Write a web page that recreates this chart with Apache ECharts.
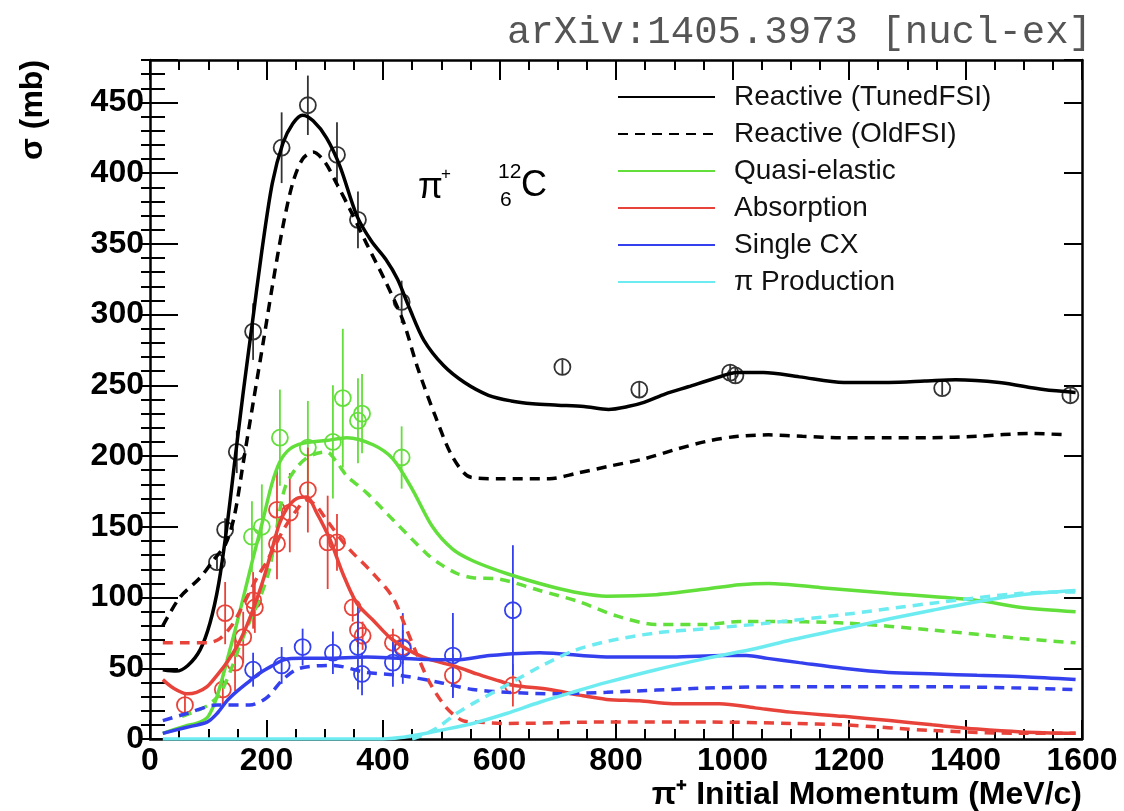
<!DOCTYPE html>
<html>
<head>
<meta charset="utf-8">
<script src="https://cdn.jsdelivr.net/npm/echarts@6/dist/echarts.min.js"></script>
<style>
html, body { margin: 0; padding: 0; background: #fff; }
#chart { width: 1124px; height: 811px; }
</style>
</head>
<body>
<div id="chart"></div>
<script>
// pi+ on carbon-12: cross sections (mb) vs pion momentum (MeV/c)

const xTicks = [0, 200, 400, 600, 800, 1000, 1200, 1400, 1600];
const yTicks = [0, 50, 100, 150, 200, 250, 300, 350, 400, 450];

// Model curves [momentum, sigma]
const reactiveTuned = [[22,49],[45,48],[65,52],[86,63],[103,82],[118,110],[132,150],[146,198],[160,245],[175,292],[192,345],[210,393],[228,421],[245,435],[262,441],[280,437],[303,425],[326,405],[355,370],[380,352],[405,339],[425,325],[445,305],[470,282],[504,264],[540,252],[581,243],[620,239],[657,237],[700,236],[745,235],[787,233],[820,235],[848,238],[885,244],[924,249],[970,255],[1008,259],[1053,259],[1115,256],[1191,252],[1268,252],[1330,253],[1383,254],[1458,252],[1534,247],[1589,245]];
const reactiveOld = [[22,80],[51,100],[86,114],[108,126],[130,138],[145,158],[160,195],[178,240],[195,282],[210,320],[228,362],[245,393],[262,410],[280,415],[300,408],[320,393],[345,373],[372,350],[406,322],[435,295],[459,263],[490,228],[520,199],[551,185],[600,184],[686,184],[734,188],[790,193],[848,198],[905,205],[962,211],[1010,214],[1062,215],[1120,214],[1191,213],[1268,213],[1340,213],[1420,214],[1511,216],[1573,215]];
const quasiTuned = [[22,4],[60,9],[86,12],[100,16],[115,30],[132,55],[148,80],[162,103],[177,128],[194,155],[209,180],[223,196],[240,205],[262,209],[303,211],[338,213],[383,208],[417,198],[451,176],[485,150],[520,134],[554,126],[612,117],[686,108],[740,103],[784,101],[869,102],[955,106],[1012,109],[1062,110],[1152,107],[1268,103],[1420,98],[1496,93],[1589,90]];
const quasiOld = [[55,16],[80,20],[100,24],[120,32],[140,50],[154,66],[170,82],[189,100],[205,120],[218,150],[232,178],[252,192],[274,200],[303,203],[320,196],[338,186],[372,174],[417,155],[475,131],[497,124],[527,117],[554,114],[600,113],[669,105],[737,97],[801,87],[869,81],[955,81],[1012,83],[1062,83],[1191,82],[1343,77],[1496,71],[1589,68]];
const absTuned = [[22,42],[40,36],[63,32],[80,33],[98,37],[115,45],[132,54],[150,66],[166,80],[180,95],[194,112],[208,132],[222,152],[235,163],[252,170],[269,171],[286,160],[309,141],[331,117],[355,96],[383,84],[417,70],[468,58],[527,51],[561,46],[600,41],[623,38],[686,35],[737,31],[784,28],[840,27],[897,25],[978,25],[1039,22],[1100,19],[1191,16],[1270,13],[1343,10],[1420,7],[1496,5],[1589,4]];
const absOld = [[22,68],[60,68],[98,68],[120,71],[140,80],[154,90],[170,103],[185,115],[200,125],[215,137],[232,150],[252,162],[269,169],[285,165],[303,155],[338,136],[383,117],[417,100],[438,80],[458,60],[480,40],[509,22],[537,13],[560,12],[612,11],[784,12],[955,12],[1100,11],[1191,10],[1343,6],[1496,4],[1589,4]];
const cxTuned = [[22,4],[60,8],[98,12],[115,18],[132,27],[150,34],[171,41],[190,47],[211,52],[230,56],[260,57],[300,57],[372,58],[429,57],[497,56],[526,56],[583,59],[669,61],[784,58],[897,58],[983,59],[1024,59],[1060,57],[1115,54],[1190,50],[1268,47],[1350,46],[1420,45],[1500,44],[1589,42]];
const cxOld = [[22,13],[63,18],[115,24],[171,24],[200,29],[228,42],[257,50],[314,52],[372,47],[429,45],[497,40],[554,35],[612,33],[698,32],[784,33],[955,36],[1115,37],[1343,37],[1589,35]];
const prodTuned = [[22,0],[400,0],[430,1],[460,3],[497,6],[554,11],[612,18],[669,26],[725,33],[784,40],[869,49],[955,57],[1040,64],[1100,70],[1191,78],[1270,85],[1343,91],[1420,97],[1496,102],[1589,105]];
const prodOld = [[450,0],[475,4],[497,9],[526,18],[554,25],[612,38],[669,51],[725,62],[784,69],[869,75],[955,78],[1062,82],[1191,88],[1343,96],[1496,103],[1589,104]];

// Measurements [momentum, sigma, error]
const reactiveData = [[115,125,5],[129,148,8],[149,203,15],[177,288,20],[226,418,25],[271,448,21],[321,413,23],[357,367,20],[432,309,15],[708,263,5],[840,247,6],[996,259,6],[1005,257,6],[1360,248,5],[1580,243,5]];
const quasiData = [[175,143,25],[192,150,30],[223,213,34],[271,206,33],[314,210,40],[331,241,49],[357,225,30],[364,230,28],[432,199,22]];
const absData = [[60,24,8],[125,35,12],[129,89,22],[146,54,20],[160,72,18],[177,98,20],[180,93,18],[218,138,25],[218,162,28],[240,160,28],[271,176,30],[305,139,33],[321,139,20],[348,93,10],[357,77,12],[365,73,10],[417,68,10],[434,65,12],[520,45,15],[623,38,15]];
const cxData = [[177,49,12],[226,52,13],[262,65,13],[314,61,15],[357,65,30],[364,46,15],[417,54,17],[434,64,25],[520,59,30],[623,91,46]];

const BLACK = '#000000', GREEN = '#62df3a', RED = '#e8433a', BLUE = '#3440ee', CYAN = '#6cecf0';
const FONT = '"Liberation Sans", Arial, Helvetica, sans-serif';
const DASH = [10, 7];

function curve(name, data, color, dashed) {
  return {
    name: name, type: 'line', data: data, symbol: 'none', smooth: 0.3,
    lineStyle: { color: color, width: 3.5, type: dashed ? DASH : 'solid' },
    itemStyle: { color: color }, z: 3, silent: true
  };
}

function points(name, data, color) {
  return {
    name: name, type: 'custom', data: data, z: 2, silent: true,
    encode: { x: 0, y: 1 },
    renderItem: function (params, api) {
      const x = api.value(0), y = api.value(1), e = api.value(2);
      const p = api.coord([x, y]);
      const hi = api.coord([x, y + e]);
      const lo = api.coord([x, y - e]);
      return {
        type: 'group',
        children: [
          { type: 'line', shape: { x1: p[0], y1: hi[1], x2: p[0], y2: lo[1] }, style: { stroke: color, lineWidth: 1.8 } },
          { type: 'circle', shape: { cx: p[0], cy: p[1], r: 8 }, style: { fill: null, stroke: color, lineWidth: 1.8 } }
        ]
      };
    }
  };
}

const chart = echarts.init(document.getElementById('chart'), null, { renderer: 'canvas' });

const frameLine = { show: true, onZero: false, lineStyle: { color: '#000', width: 2.5 } };
const tickStyle = { color: '#000', width: 2 };

const option = {
  backgroundColor: '#ffffff',
  animation: false,
  grid: { left: 150, right: 42, top: 60, bottom: 72, containLabel: false },
  xAxis: [
    {
      type: 'value', min: xTicks[0], max: xTicks[xTicks.length - 1], interval: 200, position: 'bottom',
      axisLine: frameLine,
      axisTick: { show: true, inside: true, length: 19, lineStyle: tickStyle },
      minorTick: { show: true, splitNumber: 4, length: 10, lineStyle: tickStyle },
      splitLine: { show: false },
      axisLabel: { color: '#000', fontSize: 32, fontWeight: 'bold', fontFamily: FONT, margin: 6,
        formatter: v => xTicks.includes(v) ? String(v) : '' }
    },
    {
      type: 'value', min: xTicks[0], max: xTicks[xTicks.length - 1], interval: 200, position: 'top',
      axisLine: frameLine,
      axisTick: { show: true, inside: true, length: 20, lineStyle: tickStyle },
      minorTick: { show: true, splitNumber: 4, length: 10, lineStyle: tickStyle },
      splitLine: { show: false }, axisLabel: { show: false }
    }
  ],
  yAxis: [
    {
      type: 'value', min: 0, max: 480, interval: 50, position: 'left',
      axisLine: frameLine,
      axisTick: { show: true, inside: true, length: 28, lineStyle: tickStyle },
      splitLine: { show: false },
      axisLabel: { color: '#000', fontSize: 32, fontWeight: 'bold', fontFamily: FONT, margin: 6,
        formatter: v => yTicks.includes(v) ? String(v) : '' }
    },
    {
      type: 'value', min: 0, max: 480, interval: 10, position: 'left',
      axisLine: { show: false },
      axisTick: { show: true, inside: true, length: 15, lineStyle: tickStyle },
      splitLine: { show: false }, axisLabel: { show: false }
    },
    {
      type: 'value', min: 0, max: 480, interval: 50, position: 'right',
      axisLine: frameLine,
      axisTick: { show: true, inside: true, length: 18, lineStyle: tickStyle },
      splitLine: { show: false }, axisLabel: { show: false }
    },
    {
      type: 'value', min: 0, max: 480, interval: 10, position: 'right',
      axisLine: { show: false },
      axisTick: { show: true, inside: true, length: 9, lineStyle: tickStyle },
      splitLine: { show: false }, axisLabel: { show: false }
    }
  ],
  legend: {
    data: ['Reactive (TunedFSI)', 'Reactive (OldFSI)', 'Quasi-elastic', 'Absorption', 'Single CX', 'π Production'],
    orient: 'vertical', left: 612, top: 78, itemWidth: 97, itemHeight: 14, itemGap: 9,
    selectedMode: false,
    itemStyle: { opacity: 0 },
    textStyle: { fontSize: 28, fontFamily: FONT, color: '#111', lineHeight: 27, padding: [0, 0, 0, 14] }
  },
  graphic: [
    { type: 'text', right: 32, top: 13,
      style: { text: 'arXiv:1405.3973 [nucl-ex]', font: '39px "Liberation Mono", "Courier New", monospace', fill: '#555' } },
    { type: 'text', x: 33, y: 110, rotation: Math.PI / 2,
      style: { text: 'σ (mb)', font: 'bold 32px ' + FONT, fill: '#000', textAlign: 'center', textVerticalAlign: 'middle' } },
    { type: 'text', x: 1082, y: 795,
      style: { text: 'π⁺ Initial Momentum (MeV/c)', font: 'bold 32px ' + FONT, fill: '#000', textAlign: 'right', textVerticalAlign: 'middle' } },
    { type: 'text', x: 418, y: 188,
      style: { text: 'π', font: '36px ' + FONT, fill: '#000', textAlign: 'left', textVerticalAlign: 'middle' } },
    { type: 'text', x: 441, y: 174,
      style: { text: '+', font: '17px ' + FONT, fill: '#000', textAlign: 'left', textVerticalAlign: 'middle' } },
    { type: 'text', x: 498, y: 172,
      style: { text: '12', font: '21px ' + FONT, fill: '#000', textAlign: 'left', textVerticalAlign: 'middle' } },
    { type: 'text', x: 500, y: 200,
      style: { text: '6', font: '21px ' + FONT, fill: '#000', textAlign: 'left', textVerticalAlign: 'middle' } },
    { type: 'text', x: 521, y: 186,
      style: { text: 'C', font: '36px ' + FONT, fill: '#000', textAlign: 'left', textVerticalAlign: 'middle' } }
  ],
  series: [
    points('Reactive data', reactiveData, '#333333'),
    points('Quasi-elastic data', quasiData, GREEN),
    points('Absorption data', absData, RED),
    points('Single CX data', cxData, BLUE),
    curve('Reactive (TunedFSI)', reactiveTuned, BLACK, false),
    curve('Reactive (OldFSI)', reactiveOld, BLACK, true),
    curve('Quasi-elastic', quasiTuned, GREEN, false),
    curve('Quasi-elastic (OldFSI)', quasiOld, GREEN, true),
    curve('Absorption', absTuned, RED, false),
    curve('Absorption (OldFSI)', absOld, RED, true),
    curve('Single CX', cxTuned, BLUE, false),
    curve('Single CX (OldFSI)', cxOld, BLUE, true),
    curve('π Production', prodTuned, CYAN, false),
    curve('π Production (OldFSI)', prodOld, CYAN, true)
  ]
};

chart.setOption(option);
</script>
</body>
</html>
